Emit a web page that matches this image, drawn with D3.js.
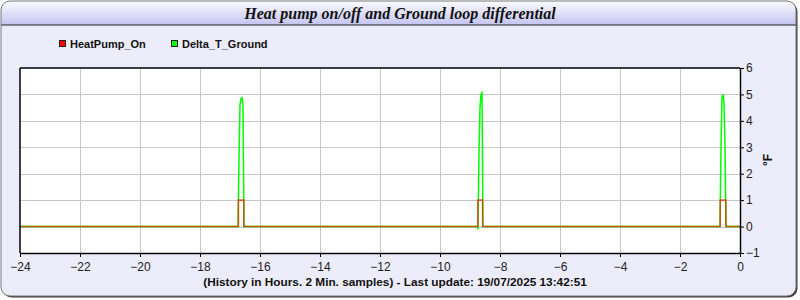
<!DOCTYPE html>
<html>
<head>
<meta charset="utf-8">
<script src="https://cdn.jsdelivr.net/npm/d3@7"></script>
<style>
  body { margin: 0; background: #fff; }
  svg text { font-family: "Liberation Sans", Arial, sans-serif; }
</style>
</head>
<body>
<svg id="chart" width="800" height="300"></svg>
<script>
// chart text
var title = "Heat pump on/off and Ground loop differential";
var footer = "(History in Hours. 2 Min. samples) - Last update: 19/07/2025 13:42:51";
var unitLabel = "\u00B0F";
var seriesNames = ["HeatPump_On", "Delta_T_Ground"];
var legendColors = ["#ff0000", "#00ff00"];

// tick values
var xTicks = [-24, -22, -20, -18, -16, -14, -12, -10, -8, -6, -4, -2, 0];
var yTicks = [-1, 0, 1, 2, 3, 4, 5, 6];

// HeatPump_On (hours ago, value) - step changes
var hpHours  = [-24, -16.72, -16.72, -16.54, -16.54, -8.74, -8.74, -8.58, -8.58, -0.66, -0.66, -0.47, -0.47, 0];
var hpValues = [0,   0,      1,      1,      0,      0,     1,     1,     0,     0,     1,     1,     0,     0];

// Delta_T_Ground (hours ago, value)
var dtHours  = [-24, -16.733, -16.700, -16.667, -16.633, -16.600, -16.567, -16.533,
                -8.767, -8.733, -8.700, -8.667, -8.633, -8.600, -8.567,
                -0.667, -0.633, -0.600, -0.567, -0.533, -0.500, -0.467, 0];
var dtValues = [0,   0,       2.6,     4.6,     4.85,    4.88,    4.6,     0,
                0,     -0.1,   2.8,    4.5,    5.0,    5.06,   0,
                0,      3.0,    4.9,    5.0,    4.7,    3.0,    0,      0];

function drawChart() {
  var svg = d3.select("#chart");

  // frame
  var defs = svg.append("defs");
  var grad = defs.append("linearGradient").attr("id", "tbar").attr("x1", 0).attr("y1", 0).attr("x2", 0).attr("y2", 1);
  grad.append("stop").attr("offset", "0%").attr("stop-color", "#fbfbff");
  grad.append("stop").attr("offset", "100%").attr("stop-color", "#c4c4f2");
  defs.append("clipPath").attr("id", "frameclip")
    .append("rect").attr("x", 1).attr("y", 1).attr("width", 795).attr("height", 295).attr("rx", 9);

  svg.append("rect").attr("x", 2.5).attr("y", 2.5).attr("width", 795).attr("height", 295).attr("rx", 9)
    .attr("fill", "#3a3a3a");
  svg.append("rect").attr("x", 1).attr("y", 1).attr("width", 795).attr("height", 295).attr("rx", 9)
    .attr("fill", "#ececfb");
  svg.append("rect").attr("x", 1).attr("y", 1).attr("width", 795).attr("height", 24)
    .attr("fill", "url(#tbar)").attr("clip-path", "url(#frameclip)");
  svg.append("line").attr("x1", 1).attr("x2", 796).attr("y1", 25).attr("y2", 25)
    .attr("stroke", "#222").attr("stroke-width", 1.2);
  svg.append("rect").attr("x", 1).attr("y", 1).attr("width", 795).attr("height", 295).attr("rx", 9)
    .attr("fill", "none").attr("stroke", "#777").attr("stroke-width", 1);

  svg.append("text").attr("x", 400).attr("y", 19).attr("text-anchor", "middle")
    .style("font-family", "'Liberation Serif', 'Times New Roman', serif")
    .style("font-weight", "bold").style("font-style", "italic").style("font-size", "16px")
    .attr("fill", "#111").text(title);

  // legend
  var legX = [59, 171];
  seriesNames.forEach(function(name, i) {
    svg.append("rect").attr("x", legX[i] + 0.5).attr("y", 40.5).attr("width", 6).attr("height", 6)
      .attr("fill", legendColors[i]).attr("stroke", "#222").attr("stroke-width", 1);
    svg.append("text").attr("x", legX[i] + 11).attr("y", 48)
      .style("font-size", "11px").style("font-weight", "bold").attr("fill", "#111").text(name);
  });

  // plot area
  var pLeft = 20, pRight = 740, pTop = 68, pBottom = 253;
  var x = d3.scaleLinear().domain([-24, 0]).range([pLeft, pRight]);
  var y = d3.scaleLinear().domain([-1, 6]).range([pBottom, pTop]);

  svg.append("rect").attr("x", pLeft).attr("y", pTop).attr("width", pRight - pLeft).attr("height", pBottom - pTop)
    .attr("fill", "#fff");

  // grid
  svg.append("g").selectAll("line").data(xTicks.slice(1, -1)).enter().append("line")
    .attr("x1", function(d) { return Math.round(x(d)) + 0.5; })
    .attr("x2", function(d) { return Math.round(x(d)) + 0.5; })
    .attr("y1", pTop).attr("y2", pBottom)
    .attr("stroke", "#c8c8c8").attr("stroke-width", 1);
  svg.append("g").selectAll("line").data(yTicks.slice(1, -1)).enter().append("line")
    .attr("x1", pLeft).attr("x2", pRight)
    .attr("y1", function(d) { return Math.round(y(d)) + 0.5; })
    .attr("y2", function(d) { return Math.round(y(d)) + 0.5; })
    .attr("stroke", "#c8c8c8").attr("stroke-width", 1);

  // series
  var line = d3.line()
    .x(function(d) { return x(d[0]); })
    .y(function(d) { return y(d[1]); });

  var dtData = d3.zip(dtHours, dtValues);
  var hpData = d3.zip(hpHours, hpValues);

  svg.append("path").datum(dtData).attr("d", line)
    .attr("fill", "none").attr("stroke", "#00ff00").attr("stroke-width", 1.5);
  svg.append("path").datum(hpData).attr("d", line)
    .attr("fill", "none").attr("stroke", "#ff1a00").attr("stroke-opacity", 0.7).attr("stroke-width", 1.6);

  // axes
  var xAxis = d3.axisBottom(x).tickValues(xTicks).tickSize(4).tickSizeOuter(0).tickFormat(d3.format("d"));
  var gx = svg.append("g").attr("transform", "translate(0," + pBottom + ")").call(xAxis);
  gx.select(".domain").attr("stroke", "#000").attr("stroke-width", 1.5);
  gx.selectAll(".tick line").attr("stroke", "#000");
  gx.selectAll(".tick text").style("font-size", "12px").attr("fill", "#222").attr("dy", "0.9em");

  var yAxis = d3.axisRight(y).tickValues(yTicks).tickSize(4).tickSizeOuter(0).tickFormat(d3.format("d"));
  var gy = svg.append("g").attr("transform", "translate(" + pRight + ",0)").call(yAxis);
  gy.select(".domain").attr("stroke", "#000").attr("stroke-width", 1.5);
  gy.selectAll(".tick line").attr("stroke", "#000");
  gy.selectAll(".tick text").style("font-size", "12px").attr("fill", "#222").attr("x", 6);

  svg.append("line").attr("x1", pLeft).attr("x2", pLeft).attr("y1", pTop).attr("y2", pBottom)
    .attr("stroke", "#000").attr("stroke-width", 1.5);
  svg.append("line").attr("x1", pLeft).attr("x2", pRight).attr("y1", pTop).attr("y2", pTop)
    .attr("stroke", "#000").attr("stroke-width", 1.5);

  svg.append("text").attr("transform", "translate(772,160) rotate(-90)")
    .attr("text-anchor", "middle").style("font-size", "12px").style("font-weight", "bold")
    .attr("fill", "#111").text(unitLabel);

  svg.append("text").attr("x", 395).attr("y", 286).attr("text-anchor", "middle")
    .style("font-size", "11.8px").style("font-weight", "bold").attr("fill", "#111").text(footer);
}

drawChart();
</script>
</body>
</html>
